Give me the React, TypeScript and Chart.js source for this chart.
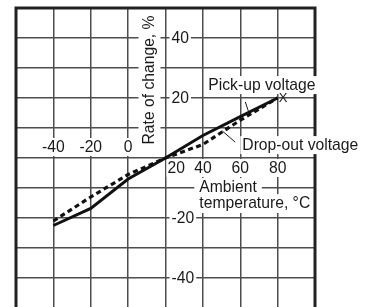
import React, { useEffect, useRef } from "react";
import { Chart, registerables } from "chart.js";

Chart.register(...registerables);

const temperatures = [-40, -20, 0, 20, 40, 60, 80];
const pickUpValues = [-22.5, -16.8, -7, 0, 7.5, 13.8, 20];
const dropOutValues = [-21, -13, -5.5, 0, 4.5, 12.6, 20];
const xTickLabels = [-40, -20, 0, 20, 40, 60, 80];
const yTickLabels = [40, 20, -20, -40];

const FONT = '"Liberation Sans", Arial, Helvetica, sans-serif';
const FS = 15.7;

function textBox(ctx: CanvasRenderingContext2D, text: string, x: number, y: number, align: CanvasTextAlign, pad = 2) {
  const w = ctx.measureText(text).width;
  let left = x;
  if (align === "center") left = x - w / 2;
  else if (align === "right") left = x - w;
  ctx.fillStyle = "#ffffff";
  ctx.fillRect(left - pad, y - 9, w + pad * 2, 18);
  ctx.fillStyle = "#1a1a1a";
  ctx.textAlign = align;
  ctx.textBaseline = "middle";
  ctx.fillText(text, x, y + 1);
}

const labelPlugin = {
  id: "labelPlugin",
  beforeDatasetsDraw(chart: any) {
    const ctx: CanvasRenderingContext2D = chart.ctx;
    const xs = chart.scales.x;
    const ys = chart.scales.y;
    const ax = xs.getPixelForValue(20);
    const ay = ys.getPixelForValue(0);
    ctx.save();
    // frame (left, top, right)
    const a = chart.chartArea;
    ctx.strokeStyle = "#222222";
    ctx.lineWidth = 3;
    ctx.beginPath();
    ctx.moveTo(a.left, a.bottom + 5);
    ctx.lineTo(a.left, a.top);
    ctx.lineTo(a.right, a.top);
    ctx.lineTo(a.right, a.bottom + 5);
    ctx.stroke();

    ctx.font = `${FS}px ${FONT}`;
    // x tick labels
    xTickLabels.forEach((v) => {
      const px = xs.getPixelForValue(v);
      if (v < 20) {
        textBox(ctx, String(v), px, ay - 11, "center", 2);
      } else if (v === 20) {
        textBox(ctx, String(v), ax + 2, ay + 10, "left", 1);
      } else {
        textBox(ctx, String(v), px, ay + 10, "center", 2);
      }
    });
    // y tick labels
    yTickLabels.forEach((v) => {
      const py = ys.getPixelForValue(v);
      textBox(ctx, String(v), ax + 6, py, "left", 2);
    });
    // x axis title
    const tx = xs.getPixelForValue(38.1);
    const t1 = ys.getPixelForValue(-9.7);
    const t2 = ys.getPixelForValue(-15);
    const w1 = ctx.measureText("Ambient").width;
    const w2 = ctx.measureText("temperature, °C").width;
    ctx.fillStyle = "#ffffff";
    ctx.fillRect(tx - 5, t1 - 9, w1 + 10, 18);
    ctx.fillRect(tx - 2, t1 + 7, w2 + 4, t2 - t1 + 3);
    ctx.fillStyle = "#1a1a1a";
    ctx.textAlign = "left";
    ctx.textBaseline = "middle";
    ctx.fillText("Ambient", tx, t1 + 1);
    ctx.fillText("temperature, °C", tx, t2 + 1);
    // y axis title (rotated)
    const yx = xs.getPixelForValue(10.9);
    const yy = ys.getPixelForValue(26);
    const yt = "Rate of change, %";
    const yw = ctx.measureText(yt).width;
    ctx.save();
    ctx.translate(yx, yy);
    ctx.rotate(-Math.PI / 2);
    ctx.fillStyle = "#ffffff";
    ctx.fillRect(-yw / 2 - 4, -10, yw + 8, 22);
    ctx.fillStyle = "#1a1a1a";
    ctx.textAlign = "center";
    ctx.textBaseline = "middle";
    ctx.fillText(yt, 0, 1);
    ctx.restore();
    // annotations
    const pkx = xs.getPixelForValue(42.9);
    const pky = ys.getPixelForValue(24.3);
    const pw = ctx.measureText("Pick-up voltage").width;
    ctx.fillStyle = "#ffffff";
    ctx.fillRect(pkx - 2, pky - 9, pw + 4, 18);
    ctx.fillStyle = "#1a1a1a";
    ctx.fillText("Pick-up voltage", pkx, pky + 1);
    const dx = xs.getPixelForValue(61.1);
    const dy = ys.getPixelForValue(4.3);
    const dw = ctx.measureText("Drop-out voltage").width;
    ctx.fillStyle = "#ffffff";
    ctx.fillRect(dx - 2, dy - 9, dw + 4, 18);
    ctx.fillStyle = "#1a1a1a";
    ctx.fillText("Drop-out voltage", dx, dy + 1);
    ctx.restore();
  },
  afterDatasetsDraw(chart: any) {
    const ctx: CanvasRenderingContext2D = chart.ctx;
    const xs = chart.scales.x;
    const ys = chart.scales.y;
    ctx.save();
    ctx.strokeStyle = "#1a1a1a";
    ctx.lineWidth = 1;
    ctx.beginPath();
    ctx.moveTo(xs.getPixelForValue(62.7), ys.getPixelForValue(18.7));
    ctx.lineTo(xs.getPixelForValue(64.3), ys.getPixelForValue(15.7));
    ctx.moveTo(xs.getPixelForValue(50.4), ys.getPixelForValue(9));
    ctx.lineTo(xs.getPixelForValue(57.3), ys.getPixelForValue(5.3));
    ctx.stroke();
    ctx.font = `13px ${FONT}`;
    ctx.fillStyle = "#1a1a1a";
    ctx.textAlign = "center";
    ctx.textBaseline = "middle";
    ctx.fillText("X", xs.getPixelForValue(82.9), ys.getPixelForValue(19.7));
    ctx.restore();
  },
};

export default function App() {
  const ref = useRef<HTMLCanvasElement | null>(null);
  useEffect(() => {
    if (!ref.current) return;
    const chart = new Chart(ref.current, {
      type: "line",
      data: {
        datasets: [
          {
            label: "Drop-out voltage",
            data: temperatures.map((t, i) => ({ x: t, y: dropOutValues[i] })),
            borderColor: "#111111",
            borderWidth: 3.2,
            borderDash: [5, 3.5],
            pointRadius: 0,
            tension: 0,
            fill: false,
          },
          {
            label: "Pick-up voltage",
            data: temperatures.map((t, i) => ({ x: t, y: pickUpValues[i] })),
            borderColor: "#111111",
            borderWidth: 3,
            pointRadius: 0,
            tension: 0,
            fill: false,
          },
        ],
      },
      options: {
        responsive: false,
        animation: false,
        layout: { padding: { left: 16, top: 8, right: 52, bottom: 2 } },
        plugins: { legend: { display: false }, tooltip: { enabled: false } },
        scales: {
          x: {
            type: "linear",
            min: -60,
            max: 100,
            ticks: { stepSize: 20, display: false },
            grid: { color: "#4d4d4d", lineWidth: 1.5, drawTicks: false },
            border: { display: false },
            afterFit: (s: any) => { s.height = 0; },
          },
          y: {
            type: "linear",
            min: -50,
            max: 50,
            ticks: { stepSize: 10, display: false },
            grid: { color: "#4d4d4d", lineWidth: 1.5, drawTicks: false },
            border: { display: false },
            afterFit: (s: any) => { s.width = 0; },
          },
        },
      },
      plugins: [labelPlugin],
    });
    return () => chart.destroy();
  }, []);
  return (
    <div style={{ position: "fixed", left: 0, top: 0, width: 367, height: 307, overflow: "hidden", background: "#ffffff" }}>
      <canvas ref={ref} width={367} height={310} style={{ display: "block" }} />
    </div>
  );
}
